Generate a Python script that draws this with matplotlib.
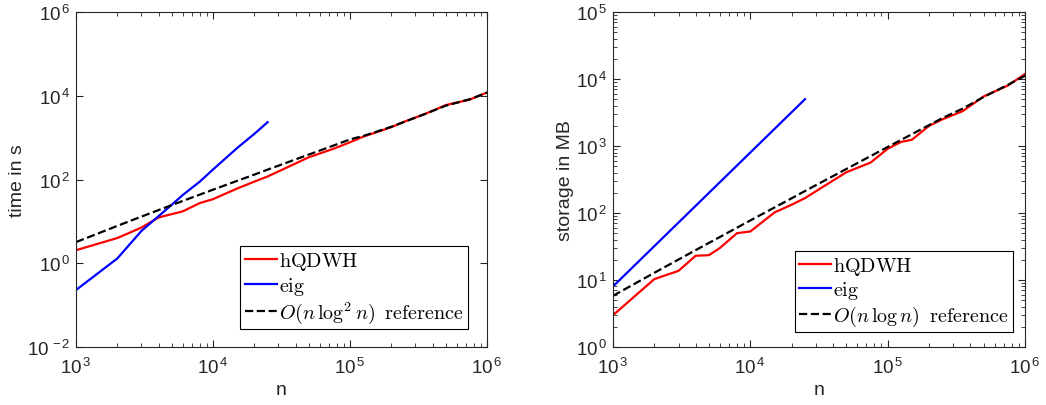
import numpy as np
import matplotlib
matplotlib.use('Agg')
import matplotlib.pyplot as plt
from matplotlib.ticker import LogLocator, NullLocator, NullFormatter, FuncFormatter
from matplotlib.font_manager import FontProperties

# matrix sizes
n_h = [1e3, 2e3, 3e3, 4e3, 5e3, 6e3, 8e3, 1e4, 1.5e4, 2e4, 2.5e4, 5e4, 7.5e4,
       1e5, 1.25e5, 1.5e5, 2e5, 2.5e5, 3.5e5, 5e5, 7.5e5, 1e6]
n_e = [1e3, 2e3, 3e3, 4e3, 5e3, 6e3, 8e3, 1e4, 1.5e4, 2e4, 2.5e4]

# time in s
time_hqdwh = [2.05, 4.0, 7.1, 12.4, 14.9, 17.3, 27.4, 34, 61, 89, 118, 340, 537,
              776, 1060, 1290, 1780, 2420, 3650, 6000, 8150, 12000]
time_eig = [0.23, 1.3, 5.9, 13.3, 25, 42.5, 89, 174, 566, 1230, 2340]
time_ref = [3.2, 7.8, 13.0, 18.6, 24.5, 30.7, 43.6, 57.2, 93, 131, 172, 395, 640,
            910, 1100, 1330, 1820, 2400, 3650, 5800, 8300, 11900]

# storage in MB
mem_hqdwh = [2.98, 10.3, 13.7, 23, 23.5, 30, 50, 53, 102, 133, 167, 406, 565,
             910, 1150, 1240, 2000, 2500, 3300, 5500, 8000, 11900]
mem_eig = [8, 32, 72, 128, 200, 288, 512, 800, 1800, 3200, 5000]
mem_ref = [5.8, 12.8, 20.2, 27.9, 35.8, 43.8, 60.4, 77.4, 121, 166, 213, 454, 707,
           967, 1232, 1502, 2050, 2610, 3600, 5400, 8200, 11200]

plt.rcParams['mathtext.fontset'] = 'custom'
plt.rcParams['mathtext.rm'] = 'Liberation Sans'
plt.rcParams['mathtext.it'] = 'Liberation Sans:italic'
plt.rcParams['font.family'] = 'Liberation Sans'

gray = '#262626'
fig = plt.figure(figsize=(10.46, 4.06), dpi=100)
ax1 = fig.add_axes([0.0727, 0.1429, 0.393, 0.825])
ax2 = fig.add_axes([0.586, 0.1429, 0.394, 0.825])

leg_font = FontProperties(family='DejaVu Serif', size=14.5, math_fontfamily='cm')
pow_fmt = FuncFormatter(lambda v, p: r'$\mathdefault{10^{\,%d}}$' % round(np.log10(v)))


def style(ax):
    ax.set_xscale('log')
    ax.set_yscale('log')
    ax.set_xlim(1e3, 1e6)
    ax.xaxis.set_major_locator(LogLocator(base=10))
    ax.xaxis.set_minor_locator(LogLocator(base=10, subs=np.arange(2, 10)))
    ax.xaxis.set_minor_formatter(NullFormatter())
    ax.xaxis.set_major_formatter(pow_fmt)
    ax.yaxis.set_major_formatter(pow_fmt)
    ax.tick_params(which='both', direction='in', top=True, right=True,
                   colors=gray, labelsize=13.5)
    ax.tick_params(which='major', length=5, width=0.8)
    ax.tick_params(which='minor', length=2.8, width=0.6)
    ax.tick_params(axis='x', pad=7)
    ax.tick_params(axis='y', pad=4)
    for s in ax.spines.values():
        s.set_color(gray)
        s.set_linewidth(0.8)
    ax.set_xlabel('n', fontsize=14, color=gray, labelpad=3)


def add_legend(ax, anchor):
    lg = ax.legend(loc='upper left', bbox_to_anchor=anchor, prop=leg_font,
                   fancybox=False, edgecolor='k', framealpha=1, borderaxespad=0,
                   handlelength=1.6, handletextpad=0.1, labelspacing=0.12,
                   borderpad=0.2)
    lg.get_frame().set_linewidth(0.8)


# left: time
ax1.plot(n_h, time_hqdwh, color='#ff0000', lw=1.6, label=r'$\mathrm{hQDWH}$')
ax1.plot(n_e, time_eig, color='#0000ff', lw=1.6, label=r'$\mathrm{eig}$')
ax1.plot(n_h, time_ref, 'k--', lw=1.6, label=r'$O(n\,\log^2 n)\;\;\mathrm{reference}$')
style(ax1)
ax1.set_ylim(1e-2, 1e6)
ax1.set_yticks([1e-2, 1e0, 1e2, 1e4, 1e6])
ax1.yaxis.set_minor_locator(NullLocator())
ax1.set_ylabel('time in s', fontsize=14, color=gray, labelpad=1)
add_legend(ax1, (0.40, 0.301))

# right: storage
ax2.plot(n_h, mem_hqdwh, color='#ff0000', lw=1.6, label=r'$\mathrm{hQDWH}$')
ax2.plot(n_e, mem_eig, color='#0000ff', lw=1.6, label=r'$\mathrm{eig}$')
ax2.plot(n_h, mem_ref, 'k--', lw=1.6, label=r'$O(n\,\log n)\;\;\mathrm{reference}$')
style(ax2)
ax2.set_ylim(1e0, 1e5)
ax2.yaxis.set_major_locator(LogLocator(base=10))
ax2.yaxis.set_minor_locator(LogLocator(base=10, subs=np.arange(2, 10)))
ax2.yaxis.set_minor_formatter(NullFormatter())
ax2.set_ylabel('storage in MB', fontsize=14, color=gray, labelpad=1)
add_legend(ax2, (0.442, 0.287))

fig.savefig('out.png', dpi=100)
